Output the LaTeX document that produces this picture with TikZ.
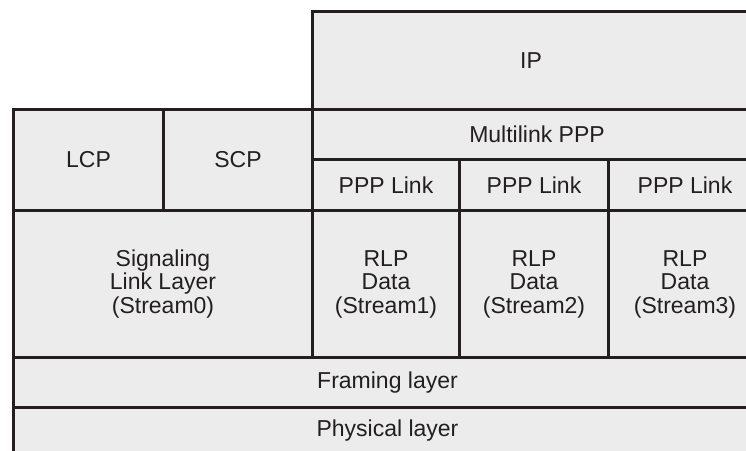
\documentclass[tikz,border=0pt]{standalone}
\usepackage{fontspec}
\setmainfont{Liberation Sans}
\definecolor{cellfill}{HTML}{ECECEC}
\definecolor{ink}{HTML}{231F20}
\tikzset{
  x=1pt, y=-1pt,
  cell/.style={draw=ink, fill=cellfill, line width=3pt, inner sep=0pt,
    anchor=north west, align=center, text=ink,
    font=\fontsize{23}{23.5}\selectfont},
}
% \layercell{name}{x0}{y0}{x1}{y1}{text}
\newcommand\layercell[6]{%
  \pgfmathsetmacro\cellw{#4-#2}\pgfmathsetmacro\cellh{#5-#3}%
  \node[cell, minimum width=\cellw pt, minimum height=\cellh pt] (#1) at (#2,#3) {#6};}
\begin{document}
\begin{tikzpicture}
\useasboundingbox (0,0) rectangle (746,450);
\clip (0,0) rectangle (746,450);
% upper protocols
\layercell{ip}{311}{10}{748}{108}{IP}
\layercell{lcp}{12}{108}{162}{209}{LCP}
\layercell{scp}{162}{108}{311}{209}{SCP}
\layercell{mlppp}{311}{108}{760}{158}{Multilink PPP}
\layercell{pppa}{311}{158}{458}{209}{PPP Link}
\layercell{pppb}{458}{158}{607}{209}{PPP Link}
\layercell{pppc}{607}{158}{760}{209}{PPP Link}
% link layer streams
\layercell{sig}{12}{209}{311}{356}{Signaling\\Link Layer\\(Stream0)}
\layercell{rlpa}{311}{209}{458}{356}{RLP\\Data\\(Stream1)}
\layercell{rlpb}{458}{209}{607}{356}{RLP\\Data\\(Stream2)}
\layercell{rlpc}{607}{209}{760}{356}{RLP\\Data\\(Stream3)}
% lower layers
\layercell{framing}{12}{356}{760}{406}{Framing layer}
\layercell{physical}{12}{406}{760}{453}{Physical layer}
\end{tikzpicture}
\end{document}
